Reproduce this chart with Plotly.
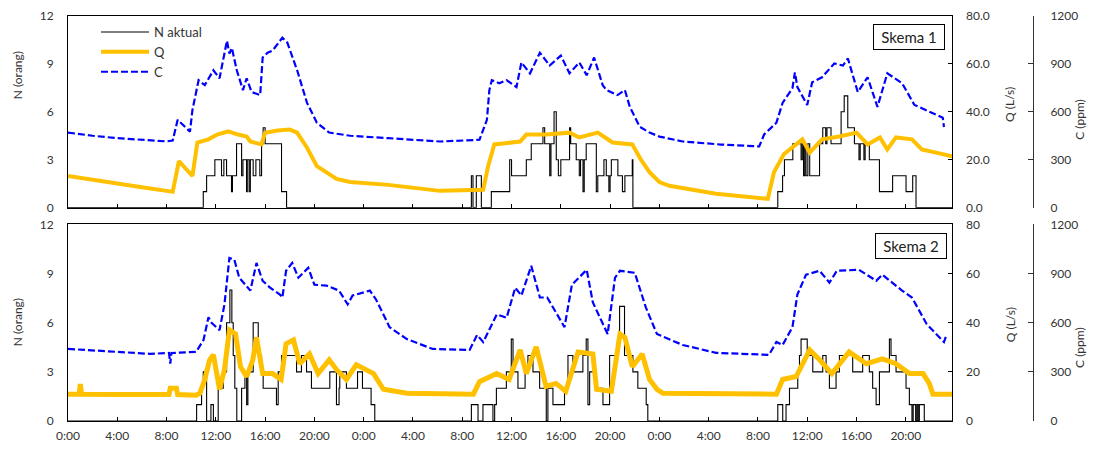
import plotly.graph_objects as go

# ---------------- DATA ----------------
tick_hours = [0, 4, 8, 12, 16, 20, 24, 28, 32, 36, 40, 44, 48, 52, 56, 60, 64, 68]
tick_labels = ["0:00", "4:00", "8:00", "12:00", "16:00", "20:00"] * 3

# Skema 1 -------------------------------------------------------------
s1_c_t = [0, 2, 4, 6, 8, 8.5, 8.9, 9.9, 10.1, 10.6, 11.1, 11.8, 12.3, 12.9, 13.1, 13.3, 13.7, 14.2,
          14.5, 14.9, 15.6, 15.8, 16.2, 16.6, 17.0, 17.4, 17.8, 18.6, 19.4, 20.2, 21.2, 22.9, 26,
          30.2, 33.4, 34.0, 34.2, 34.4, 35.0, 35.6, 36.4, 36.8, 37.5, 38.3, 39.1, 40.0, 40.7, 41.5,
          42.1, 42.7, 43.4, 43.7, 44.6, 45.2, 45.6, 46.4, 47.2, 48.0, 49.9, 53, 56.1, 56.5, 57.5,
          58.0, 58.8, 59.0, 59.2, 60.0, 60.4, 61.2, 62.2, 62.9, 63.3, 64.1, 64.9, 65.7, 66.5, 67.7,
          68.7, 70.2, 71.0, 71.1]
s1_c = [470, 450, 435, 425, 415, 420, 550, 476, 612, 798, 767, 860, 810, 1045, 965, 1000, 860, 736,
        810, 724, 705, 940, 970, 983, 1027, 1064, 1033, 860, 656, 532, 470, 450, 435,
        414, 425, 550, 736, 798, 779, 798, 755, 909, 841, 970, 890, 952, 841, 909,
        829, 940, 767, 736, 705, 736, 631, 507, 470, 445, 414, 395, 383, 458, 532,
        656, 748, 847, 755, 643, 785, 816, 903, 890, 934, 724, 816, 631, 841, 779,
        643, 594, 563, 505]

s1_q_t = [0, 2, 4, 6, 8, 8.5, 9.0, 10.1, 10.5, 11.4, 12.1, 13.0, 13.8, 14.5, 14.8, 15.7, 16.0, 17.0,
          18.0, 18.6, 19.4, 20.2, 21.8, 22.9, 26, 30.2, 33.7, 34.1, 34.6, 36.7, 37.2, 38.8, 40.7,
          41.5, 43.0, 44.2, 45.8, 46.5, 47.2, 48.0, 48.8, 52.6, 56.8, 57.3, 58.1, 59.6, 60.2, 61.2,
          62.6, 64.0, 64.9, 65.9, 66.5, 67.2, 68.5, 69.3, 71.8]
s1_q = [13.2, 11.5, 10, 8.5, 7, 6.6, 19.4, 13.2, 27.2, 28.5, 30.5, 31.8, 30.5, 29.7, 27.6, 26.4, 31.3, 32.2,
        32.6, 31.3, 25, 17.3, 12, 10.7, 9.5, 7, 7.5, 17.3, 26.4, 27.6, 30.5, 30.5, 31.3,
        29.3, 31.3, 27.2, 26.4, 20, 14.8, 10.7, 9.1, 5.8, 3.7, 14.8, 22.3, 28.5, 23, 28.5,
        29.7, 31.3, 26.4, 29.3, 24.3, 29.3, 28.5, 24.3, 21.4]

s1_n_t = [0, 10.98, 11.25, 11.92, 12.46, 12.65, 12.87, 13.27, 13.35, 13.68, 14.09, 14.2, 14.49, 14.55,
          14.7, 14.8, 15.03, 15.25, 15.57, 15.71, 15.84, 16.0, 17.33, 17.74,
          32.74, 32.87, 33.14, 33.55, 34.36, 35.85, 36.0, 37.2, 37.6, 38.55, 38.69, 39.1, 39.2, 39.45,
          39.63, 39.8, 40.0, 40.71, 40.8, 41.25, 41.5, 41.6, 41.8, 41.9, 42.06, 42.88, 43.0, 43.5,
          43.69, 43.9, 44.0, 44.1, 44.63, 45.0, 45.2, 45.8, 45.85,
          57.61, 58.0, 58.15, 58.83, 59.5, 59.6, 59.7, 59.8, 59.9, 60.05, 60.2, 61.0, 61.26, 61.5,
          61.6, 61.93, 62.75, 63.0, 63.29, 63.83, 64.2, 64.3, 64.6, 64.7, 65.04, 65.86, 66.93, 68.02,
          68.56, 68.83, 71.75]
s1_n = [0, 1, 2, 3, 2, 3, 2, 1, 2, 4, 2, 3, 1, 3,
        1, 3, 2, 3, 2, 4, 5, 4, 1, 0,
        2, 0, 2, 0, 1, 3, 2, 3, 4, 5, 4, 2, 4, 6,
        3, 2, 3, 5, 4, 3, 2, 3, 1, 3, 4, 1, 2, 3,
        2, 1, 2, 3, 2, 1, 2, 3, 0,
        1, 2, 3, 4, 3, 4, 2, 4, 2, 4, 2, 4, 5, 4,
        5, 4, 6, 7, 5, 4, 3, 4, 3, 4, 3, 1, 2, 1,
        2, 0, 0]

# Skema 2 -------------------------------------------------------------
s2_c_t = [0, 3, 6.65, 8.2, 8.3, 8.4, 10.4, 11.0, 11.4, 11.65, 12.3, 12.7, 13.1, 13.5, 13.9, 14.8,
          15.3, 15.8, 16.4, 17.2, 17.4, 17.7, 18.2, 18.7, 19.5, 20.0, 21.0, 22.0, 22.7, 23.1, 24.5,
          25.0, 26.1, 27.5, 29.6, 32.6, 33.2, 33.7, 34.8, 35.6, 36.3, 36.8, 37.6, 38.3, 38.9, 40.3,
          40.9, 42.1, 42.6, 43.8, 44.4, 44.8, 46.0, 46.9, 47.8, 49.9, 52.6, 56.9, 57.5, 58.0, 58.8,
          59.2, 59.9, 61.0, 61.8, 62.4, 64.2, 65.6, 66.1, 67.7, 68.5, 69.7, 71.1, 71.3]
s2_c = [440, 425, 410, 415, 350, 415, 422, 495, 633, 600, 555, 712, 995, 985, 875, 796,
        965, 856, 814, 772, 754, 917, 965, 875, 935, 832, 826, 796, 712, 766, 796,
        742, 573, 500, 440, 434, 525, 482, 651, 630, 814, 766, 947, 754, 754, 573,
        832, 923, 724, 531, 875, 917, 905, 694, 531, 464, 416, 404, 482, 464, 573,
        772, 893, 917, 845, 917, 923, 856, 893, 796, 754, 591, 482, 525]

s2_q_t = [0, 0.9, 1.0, 1.1, 4, 8.2, 8.3, 8.8, 8.9, 10.4, 10.7, 11.1, 11.5, 11.8, 12.3, 12.7, 13.1,
          13.6, 14.0, 14.5, 15.0, 15.3, 15.8, 16.6, 17.3, 17.7, 18.3, 18.8, 19.6, 20.3, 21.2, 21.8,
          22.6, 23.4, 24.8, 25.6, 27.5, 32.9, 33.4, 34.8, 35.8, 36.7, 37.2, 38.0, 38.8, 39.6, 40.4,
          41.4, 42.6, 42.9, 44.1, 44.8, 45.2, 45.8, 46.6, 47.2, 47.8, 48.3, 57.5, 58.0, 59.1, 59.6,
          60.2, 61.0, 62.0, 63.4, 64.8, 66.1, 67.2, 68.3, 69.4, 69.9, 70.2, 71.75]
s2_q = [10.9, 10.9, 15, 10.9, 10.8, 10.8, 13.3, 13.3, 10.8, 10.5, 11.3, 16.9, 24.9, 27, 12.9, 20.9, 37,
        35.4, 22.1, 18, 24.9, 34, 19.3, 19.3, 16.9, 31.4, 33, 23.3, 27.3, 19.3, 24.9, 20.9,
        16.9, 22.9, 19.3, 12.9, 11.3, 10.9, 16, 19.3, 16.9, 28.9, 19.3, 30.2, 14.1, 15.3, 12.1,
        28.1, 27.3, 12.9, 12.1, 35.4, 34, 22.1, 27.3, 16.9, 12.9, 11.3, 10.9, 16.9, 18.1, 23.3,
        28.9, 24.9, 19.3, 28.1, 23.3, 25.3, 23.3, 19.3, 19.3, 15.3, 10.9, 10.9]

s2_n_t = [0, 10.44, 10.84, 10.98, 11.25, 11.6, 11.8, 12.19, 12.6, 12.87, 13.14, 13.3, 13.41, 13.54,
          13.7, 14.09, 14.36, 14.5, 14.6, 15.03, 15.44, 15.71, 15.84, 16.92, 17.06, 17.33, 18.55,
          18.95, 19.36, 19.76, 21.25, 21.79, 22.0, 22.06, 22.6, 23.5, 23.9, 24.6, 24.9,
          32.74, 33.28, 33.68, 34.49, 34.63, 34.77, 35.58, 35.98, 36.12, 36.52, 37.1, 37.33, 37.74,
          38.28, 38.82, 38.95, 39.36, 40.3, 40.58, 40.98, 41.79, 42.06, 42.2, 42.34, 42.74, 43.42,
          43.96, 44.6, 44.77, 45.17, 45.85, 46.25, 46.93, 47.06,
          57.61, 58.01, 58.28, 58.56, 59.23, 59.37, 59.5, 60.0, 60.45, 61.26, 61.53, 61.8, 62.34,
          62.61, 63.69, 64.5, 65.04, 65.31, 65.59, 65.86, 66.67, 66.8, 67.21, 68.02, 68.29, 68.5,
          68.6, 68.8, 68.9, 69.0, 69.1, 69.5, 71.75]
s2_n = [0, 1, 2, 3, 0, 1, 0, 2, 3, 6, 8, 6, 4, 2,
        0, 2, 3, 1, 3, 6, 4, 3, 2, 1, 3, 4, 3,
        4, 3, 2, 3, 1, 2, 3, 2, 3, 2, 1, 0,
        1, 0, 1, 0, 1, 2, 3, 5, 3, 2, 3, 4, 3,
        2, 0, 2, 1, 2, 4, 3, 4, 5, 1, 3, 2, 1,
        4, 5, 7, 4, 3, 2, 1, 0,
        1, 0, 1, 2, 3, 4, 5, 4, 3, 4, 3, 2, 3,
        4, 3, 4, 3, 2, 1, 3, 5, 4, 3, 2, 1, 0,
        1, 0, 1, 0, 1, 0, 0]

# ---------------- STYLE / GEOMETRY ----------------
BLUE = "#0000FF"
ORANGE = "#FFC000"
FONT = "Lato"
TXT = "#333333"
W, H = 1093, 451
ML, MR, MT = 68, 8, 15
MB = H - 425
PW = W - ML - MR
PH = H - MT - MB

def px(xr):   # reference pixel x -> paper
    return (xr - ML) / PW

def py(yr):   # reference pixel y -> paper
    return (H - MB - yr) / PH

XEND = px(952)
CPOS = px(1033)
TOP_DOM = [py(209), py(15)]
BOT_DOM = [py(425), py(226)]

fig = go.Figure()

def add_panel(xa, yN, yQ, yC, c_t, c, q_t, q, n_t, n, qw, legend):
    fig.add_trace(go.Scatter(x=c_t, y=c, xaxis=xa, yaxis=yC, mode="lines", name="C",
                             line=dict(color=BLUE, width=2.2, dash="7px,3px"),
                             showlegend=legend, legendrank=3))
    fig.add_trace(go.Scatter(x=q_t, y=q, xaxis=xa, yaxis=yQ, mode="lines", name="Q",
                             line=dict(color=ORANGE, width=qw),
                             showlegend=legend, legendrank=2))
    fig.add_trace(go.Scatter(x=n_t, y=n, xaxis=xa, yaxis=yN, mode="lines", name="N aktual",
                             line=dict(color="black", width=1.1, shape="hv"),
                             showlegend=legend, legendrank=1))

add_panel("x", "y", "y2", "y3", s1_c_t, s1_c, s1_q_t, s1_q, s1_n_t, s1_n, 4, True)
add_panel("x2", "y4", "y5", "y6", s2_c_t, s2_c, s2_q_t, s2_q, s2_n_t, s2_n, 5, False)

tickfont = dict(family=FONT, size=12, color=TXT)

def xax(anchor, labels):
    return dict(domain=[0, XEND], range=[0, 71.75], anchor=anchor, showline=True, mirror=True,
                linecolor="black", linewidth=1, ticks="inside", ticklen=4, tickcolor="black",
                tickvals=tick_hours, ticktext=tick_labels, showticklabels=labels,
                showgrid=False, zeroline=False, tickfont=tickfont, ticklabelstandoff=4)

def nax(dom, anchor):
    return dict(domain=dom, range=[0, 12], anchor=anchor, tickvals=[0, 3, 6, 9, 12],
                showline=True, mirror=True, linecolor="black", linewidth=1, ticks="",
                showgrid=False, zeroline=False, tickfont=tickfont, ticklabelstandoff=11)

def qax(over, anchor, fmt):
    return dict(overlaying=over, side="right", anchor=anchor, range=[0, 80],
                tickvals=[0, 20, 40, 60, 80], tickformat=fmt, ticks="inside", ticklen=4,
                tickcolor="black", showline=False, showgrid=False, zeroline=False,
                tickfont=tickfont, ticklabelstandoff=13)

def cax(over):
    return dict(overlaying=over, side="right", anchor="free", position=CPOS, range=[0, 1200],
                tickvals=[0, 300, 600, 900, 1200], ticks="inside", ticklen=5, tickcolor=TXT,
                showline=True, linecolor=TXT, linewidth=1, showgrid=False, zeroline=False,
                tickfont=tickfont, ticklabelstandoff=14)

def vtitle(text, xr, yr):
    return dict(text=text, xref="paper", yref="paper", x=px(xr), y=py(yr), xanchor="center",
                yanchor="middle", textangle=-90, showarrow=False,
                font=dict(family=FONT, size=12, color=TXT))

def skema(text, xr, yr):
    return dict(text=text, xref="paper", yref="paper", x=px(xr), y=py(yr),
                xanchor="center", yanchor="middle", showarrow=False,
                font=dict(family=FONT, size=15, color="#222222"), width=66, height=20,
                bordercolor="black", borderwidth=1, borderpad=2, bgcolor="white")

fig.update_layout(
    width=W, height=H,
    margin=dict(l=ML, r=MR, t=MT, b=MB),
    paper_bgcolor="white", plot_bgcolor="white",
    font=dict(family=FONT, size=12, color=TXT),
    xaxis=xax("y", False),
    xaxis2=xax("y4", True),
    yaxis=nax(TOP_DOM, "x"),
    yaxis2=qax("y", "x", ".1f"),
    yaxis3=cax("y"),
    yaxis4=nax(BOT_DOM, "x2"),
    yaxis5=qax("y4", "x2", "d"),
    yaxis6=cax("y4"),
    legend=dict(x=px(96), y=py(16), xanchor="left", yanchor="top",
                bgcolor="rgba(0,0,0,0)", font=dict(family=FONT, size=13, color=TXT),
                itemwidth=48, tracegroupgap=0),
    annotations=[
        vtitle("N (orang)", 17, 75), vtitle("N (orang)", 17, 325),
        vtitle("Q (L/s)", 1010, 105), vtitle("Q (L/s)", 1010, 328),
        vtitle("C (ppm)", 1080, 120), vtitle("C (ppm)", 1080, 351),
        skema("Skema 1", 909, 36), skema("Skema 2", 911, 247.5),
    ],
)

# remove the browser's default 8px page margin so the figure sits at the window's corner
fig.write_html("out.html",
               config={"displayModeBar": False},
               post_script="document.body.style.margin='0px';document.body.style.overflow='hidden';")
